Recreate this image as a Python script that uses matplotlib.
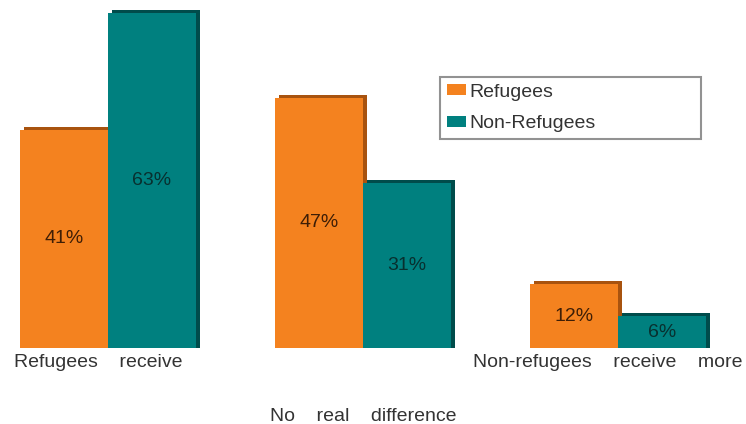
import matplotlib
matplotlib.use("Agg")
import matplotlib.pyplot as plt
from matplotlib.patches import Patch
from matplotlib.transforms import ScaledTranslation

# 数据
categories = ["Refugees    receive", "No    real    difference", "Non-refugees    receive    more"]
series_names = ["Refugees", "Non-Refugees"]
refugees = [41, 47, 12]
non_refugees = [63, 31, 6]

# 颜色 (正面, 侧面)
ORANGE = "#F4821F"
ORANGE_DARK = "#A8530F"
TEAL = "#00807F"
TEAL_DARK = "#004C4B"

plt.rcParams["font.family"] = ["Liberation Sans", "DejaVu Sans"]

fig = plt.figure(figsize=(7.46, 4.24), dpi=100)
ax = fig.add_axes([0, 76 / 424, 1, 346 / 424])
ax.set_xlim(-108 / 255, 638 / 255)
ax.set_ylim(0, 65)

w = 0.345
dx, dy = 0.016, 0.5  # 3D 深度
x = list(range(len(categories)))

for vals, off, front, side, txt in [
    (refugees, -w, ORANGE, ORANGE_DARK, "#3E1E06"),
    (non_refugees, 0, TEAL, TEAL_DARK, "#08302F"),
]:
    xs = [i + off for i in x]
    # 背面深色块，模拟立体效果
    ax.bar([p + dx for p in xs], [v + dy for v in vals], width=w, align="edge",
           color=side, zorder=2)
    ax.bar(xs, vals, width=w, align="edge", color=front, zorder=3)
    for p, v in zip(xs, vals):
        ax.text(p + w / 2, v / 2, f"{v}%", ha="center", va="center",
                fontsize=14, color=txt, zorder=4)

# 类别标签
ax.set_xticks(x)
ax.set_xticklabels(categories, fontsize=14, color="#333333")
ax.tick_params(axis="x", length=0, pad=4)
ax.tick_params(axis="y", left=False, labelleft=False)
shift = ScaledTranslation(-10 / 100, 0, fig.dpi_scale_trans)
for i, lab in enumerate(ax.get_xticklabels()):
    lab.set_transform(lab.get_transform() + shift)
ax.get_xaxis().get_major_ticks()[1].set_pad(43)
for s in ax.spines.values():
    s.set_visible(False)

# 图例
handles = [Patch(facecolor=ORANGE, edgecolor="none"),
           Patch(facecolor=TEAL, edgecolor="none")]
leg = fig.legend(handles, series_names, loc="upper left",
                 bbox_to_anchor=(440 / 746, 1 - 140 / 424, 261 / 746, 63 / 424),
                 mode="expand", borderaxespad=0, fontsize=14, frameon=True,
                 fancybox=False, handlelength=1.0, handleheight=0.5,
                 handletextpad=0.15, labelspacing=0.75, borderpad=0.35)
leg.get_frame().set_edgecolor("#777777")
leg.get_frame().set_linewidth(1.5)
for t in leg.get_texts():
    t.set_color("#333333")

fig.savefig("out.png", dpi=100)
